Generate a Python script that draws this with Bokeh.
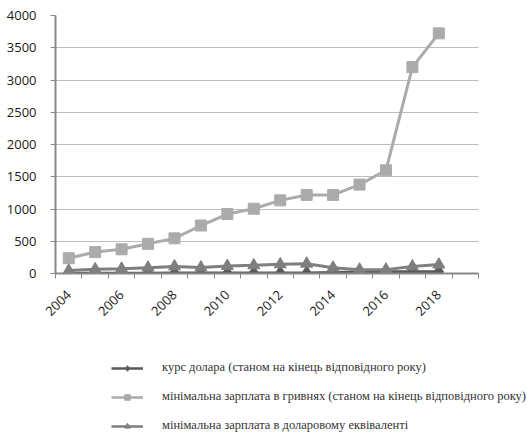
import math
from bokeh.plotting import figure
from bokeh.layouts import column
from bokeh.models import FixedTicker, Legend, LegendItem, Range1d
from bokeh.embed import file_html
from bokeh.resources import INLINE

years = list(range(2004, 2019))
usd_rate = [5.31, 5.05, 5.05, 5.05, 7.70, 7.99, 7.96, 7.99, 7.99, 7.99, 15.77, 24.00, 27.19, 28.07, 27.69]
wage_uah = [237, 332, 375, 460, 545, 744, 922, 1004, 1134, 1218, 1218, 1378, 1600, 3200, 3723]
wage_usd = [45, 66, 74, 91, 110, 93, 116, 126, 142, 152, 90, 60, 60, 110, 138]
y_ticks = [0, 500, 1000, 1500, 2000, 2500, 3000, 3500, 4000]
x_label_years = [2004, 2006, 2008, 2010, 2012, 2014, 2016, 2018]
labels = ["курс долара (станом на кінець відповідного року)",
          "мінімальна зарплата в гривнях (станом на кінець відповідного року)",
          "мінімальна зарплата в доларовому еквіваленті"]

c_rate = "#595959"
c_uah = "#ababab"
c_usd = "#7f7f7f"

p = figure(width=527, height=330, output_backend="svg", toolbar_location=None,
           x_range=Range1d(2003.5, 2019.5), y_range=Range1d(0, 4000),
           min_border_left=55, min_border_right=49, min_border_top=15, min_border_bottom=57)
p.outline_line_color = None

p.line(years, wage_uah, line_color=c_uah, line_width=3)
p.scatter(years, wage_uah, marker="square", size=11, fill_color=c_uah, line_color=c_uah)
p.line(years, usd_rate, line_color=c_rate, line_width=3)
p.scatter(years, usd_rate, marker="diamond", size=14, fill_color=c_rate, line_color=c_rate)
p.line(years, wage_usd, line_color=c_usd, line_width=3)
p.scatter(years, wage_usd, marker="triangle", size=12, fill_color=c_usd, line_color=c_usd)

p.xgrid.visible = False
p.ygrid.grid_line_color = "#bdbdbd"
p.ygrid.grid_line_width = 1
p.yaxis.ticker = FixedTicker(ticks=y_ticks)
p.yaxis.axis_line_color = "#888888"
p.yaxis.axis_line_width = 2
p.yaxis.major_tick_line_color = "#888888"
p.yaxis.major_tick_out = 5
p.yaxis.major_tick_in = 0
p.yaxis.minor_tick_line_color = None
p.yaxis.major_label_standoff = 14
p.yaxis.major_label_text_font = "Open Sans"
p.yaxis.major_label_text_font_size = "13px"
p.yaxis.major_label_text_color = "#1a1a1a"

p.xaxis.ticker = FixedTicker(ticks=x_label_years, minor_ticks=[y - 0.5 for y in range(2004, 2021)])
p.xaxis.axis_line_color = "#888888"
p.xaxis.axis_line_width = 2
p.xaxis.major_tick_line_color = None
p.xaxis.minor_tick_line_color = "#888888"
p.xaxis.minor_tick_out = 5
p.xaxis.minor_tick_in = 0
p.xaxis.major_label_orientation = math.pi / 4
p.xaxis.major_label_standoff = 13
p.xaxis.major_label_text_font = "Open Sans"
p.xaxis.major_label_text_font_size = "13px"
p.xaxis.major_label_text_color = "#1a1a1a"

# legend panel: same series, drawn outside its visible range so only legend samples show
lf = figure(width=527, height=105, output_backend="svg", toolbar_location=None,
            x_axis_type=None, y_axis_type=None,
            x_range=Range1d(0, 1), y_range=Range1d(0, 1),
            min_border_left=0, min_border_right=0, min_border_top=0, min_border_bottom=0)
lf.frame_align = False
lf.grid.visible = False
lf.outline_line_color = None
a1 = lf.line(years, usd_rate, line_color=c_rate, line_width=2.5)
b1 = lf.scatter(years, usd_rate, marker="diamond", size=10, fill_color=c_rate, line_color=c_rate)
a2 = lf.line(years, wage_uah, line_color=c_uah, line_width=2.5)
b2 = lf.scatter(years, wage_uah, marker="square", size=8, fill_color=c_uah, line_color=c_uah)
a3 = lf.line(years, wage_usd, line_color=c_usd, line_width=2.5)
b3 = lf.scatter(years, wage_usd, marker="triangle", size=9, fill_color=c_usd, line_color=c_usd)

legend = Legend(items=[LegendItem(label=labels[0], renderers=[a1, b1]),
                       LegendItem(label=labels[1], renderers=[a2, b2]),
                       LegendItem(label=labels[2], renderers=[a3, b3])],
                location=(111, 2), orientation="vertical")
legend.label_text_font = "Liberation Serif"
legend.label_text_font_size = "12.5px"
legend.label_text_color = "#333333"
legend.label_height = 14
legend.glyph_width = 32
legend.glyph_height = 14
legend.label_standoff = 19
legend.spacing = 14
legend.padding = 0
legend.margin = 0
legend.border_line_alpha = 0
legend.background_fill_alpha = 0
lf.add_layout(legend, "center")

open("out.html", "w").write(file_html(column(p, lf), INLINE))
